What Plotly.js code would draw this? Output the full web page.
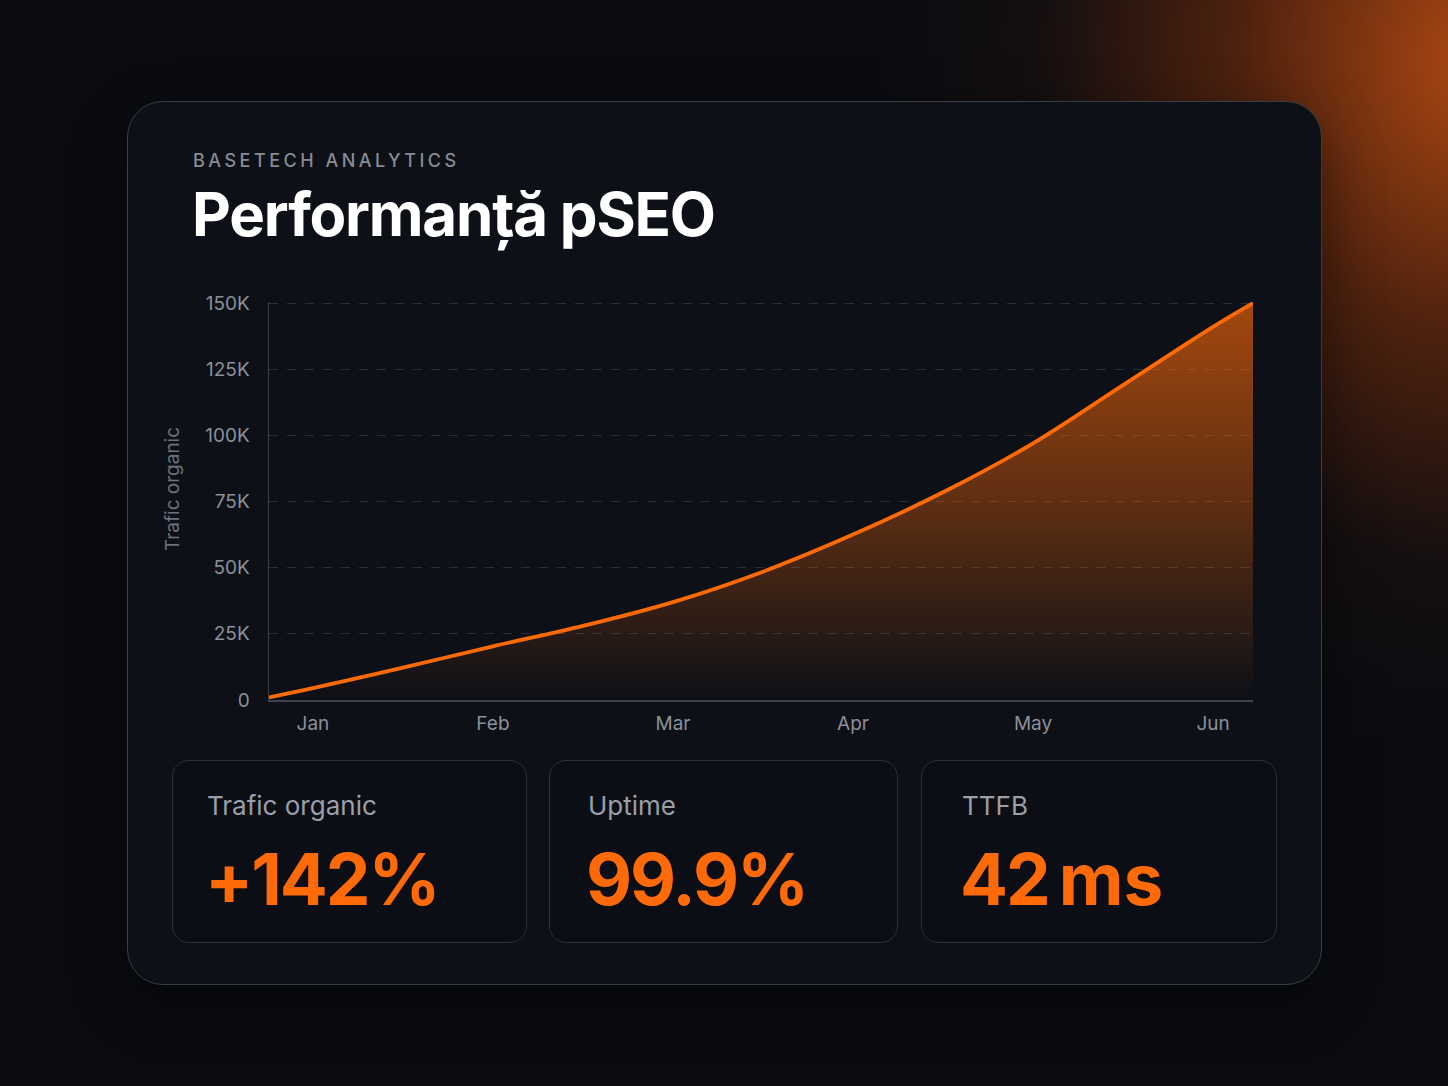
<!DOCTYPE html>
<html>
<head>
<meta charset="utf-8">
<script src="https://cdn.plot.ly/plotly-3.0.1.min.js"></script>
<style>
  html, body { margin: 0; padding: 0; }
  body {
    width: 1448px; height: 1086px; overflow: hidden; position: relative;
    font-family: Inter, "Noto Sans", sans-serif;
    background:
      radial-gradient(ellipse 680px 780px at 1480px 60px, rgba(195,80,18,0.88) 0%, rgba(135,52,12,0.55) 35%, rgba(60,25,10,0.2) 65%, rgba(10,12,17,0) 88%),
      #0a0c11;
  }
  .card {
    position: absolute; left: 127px; top: 101px; width: 1193px; height: 882px;
    border: 1.5px solid #383d46; border-radius: 36px;
    background: #0d1017;
    box-shadow: 0 20px 60px rgba(0,0,0,0.45);
  }
  .kicker {
    position: absolute; left: 193px; top: 150px;
    font-size: 18px; letter-spacing: 3.5px; color: #868b94; font-weight: 500;
  }
  .title {
    position: absolute; left: 192px; top: 178px;
    font-size: 60px; font-weight: 700; color: #ffffff; letter-spacing: -1.2px;
  }
  #chart { position: absolute; left: 0; top: 0; width: 1448px; height: 1086px; }
  .stat {
    position: absolute; top: 760px; height: 183px;
    border: 1px solid #2c3139; border-radius: 17px; background: #0b0e14;
    box-sizing: border-box;
  }
  .stat .lbl { position: absolute; top: 29px; font-size: 26px; color: #9a9fa8; }
  .stat .val { position: absolute; top: 75px; font-size: 71px; font-weight: 700; color: #ff6a08; letter-spacing: -2px; }
  .stat .val .unit { margin-left: 10px; letter-spacing: 0; }
</style>
</head>
<body>
<div class="card"></div>
<div id="chart"></div>
<div class="kicker">BASETECH ANALYTICS</div>
<div class="title">Performanță pSEO</div>
<div id="stats"></div>
<script>
// months on the x axis (Jan = 0 ... Jun = 5)
const months = ['Jan', 'Feb', 'Mar', 'Apr', 'May', 'Jun'];
const monthTicks = [0, 1, 2, 3, 4, 5];

// organic traffic
const xPos = [-0.244, 0, 0.5, 1, 1.5, 2, 2.5, 3, 3.5, 4, 4.5, 5, 5.222];
const traffic = [1000, 4500, 12200, 20300, 28000, 37000, 48500, 62500, 78500, 97000, 119000, 141000, 150000];

const yTicks = [0, 25000, 50000, 75000, 100000, 125000, 150000];
const yLabels = ['0', '25K', '50K', '75K', '100K', '125K', '150K'];

// stat tiles
const statNames = ['Trafic organic', 'Uptime', 'TTFB'];
const statValues = ['+142%', '99.9%', '42'];
const statUnits = ['', '', 'ms'];

// left, width, text inset
const tileBox = [[172, 355, 34], [549, 349, 38], [921, 356, 40]];
const stats = document.getElementById('stats');
statNames.forEach((name, i) => {
  const d = document.createElement('div');
  d.className = 'stat';
  d.style.left = tileBox[i][0] + 'px';
  d.style.width = tileBox[i][1] + 'px';
  const unit = statUnits[i] ? '<span class="unit">' + statUnits[i] + '</span>' : '';
  const inset = tileBox[i][2];
  d.innerHTML = '<div class="lbl" style="left:' + inset + 'px">' + name + '</div>' +
    '<div class="val" style="left:' + (inset - 2) + 'px">' + statValues[i] + unit + '</div>';
  stats.appendChild(d);
});

const trace = {
  x: xPos,
  y: traffic,
  type: 'scatter',
  mode: 'lines',
  line: { color: '#ff6a08', width: 3.8, shape: 'spline', smoothing: 1 },
  fill: 'tozeroy',
  fillgradient: {
    type: 'vertical',
    colorscale: [[0, 'rgba(255,106,8,0.0)'], [0.5, 'rgba(255,106,8,0.34)'], [1, 'rgba(255,106,8,0.62)']]
  },
  hoverinfo: 'skip'
};

const axisFont = { family: 'Inter, "Noto Sans", sans-serif', size: 19, color: '#8b9099' };

const layout = {
  width: 1448,
  height: 1086,
  paper_bgcolor: 'rgba(0,0,0,0)',
  plot_bgcolor: 'rgba(0,0,0,0)',
  margin: { l: 269, r: 195, t: 302, b: 386 },
  showlegend: false,
  xaxis: {
    range: [-0.244, 5.222],
    tickvals: monthTicks,
    ticktext: months,
    ticks: '',
    ticklabelstandoff: 6,
    tickfont: axisFont,
    showgrid: false,
    zeroline: false,
    showline: true,
    linecolor: '#3c414a',
    linewidth: 1.5,
    fixedrange: true
  },
  yaxis: {
    range: [0, 150400],
    tickvals: yTicks,
    ticktext: yLabels,
    ticks: '',
    ticklabelstandoff: 14,
    tickfont: axisFont,
    showgrid: true,
    gridcolor: '#2a2f37',
    griddash: 'dash',
    gridwidth: 1,
    zeroline: false,
    showline: true,
    linecolor: '#3c414a',
    linewidth: 1.5,
    fixedrange: true
  },
  annotations: [{
    text: 'Trafic organic',
    xref: 'paper', yref: 'paper',
    x: 0, y: 0.5,
    xanchor: 'center', yanchor: 'middle',
    xshift: -97, yshift: 12,
    textangle: -90,
    showarrow: false,
    font: { family: 'Inter, "Noto Sans", sans-serif', size: 19, color: '#6c717a' }
  }]
};

Plotly.newPlot('chart', [trace], layout, { staticPlot: true, displayModeBar: false });
</script>
</body>
</html>
